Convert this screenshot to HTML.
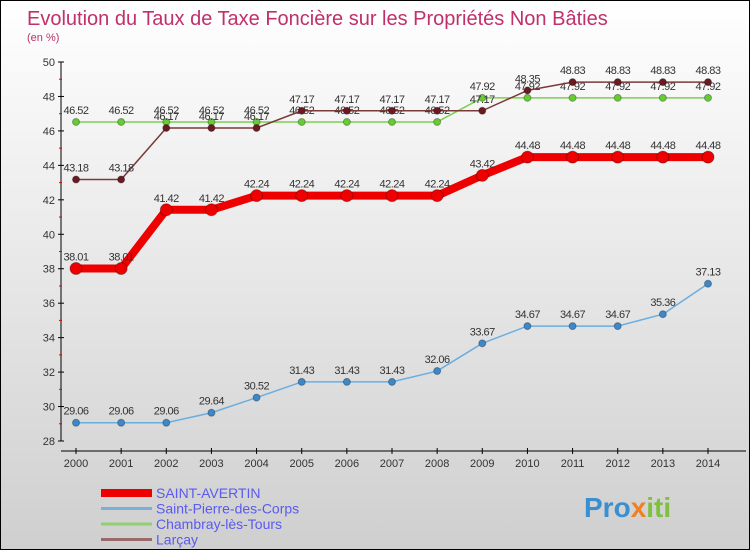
<!DOCTYPE html>
<html><head><meta charset="utf-8"><style>
body{margin:0}
#c{width:750px;height:550px;position:relative;box-sizing:border-box;border:1px solid #000;background:linear-gradient(#ffffff,#cfcfcf);font-family:"Liberation Sans",sans-serif;overflow:hidden}
</style></head><body>
<div id="c">
<svg id="s" width="750" height="550" style="position:absolute;left:0;top:0">
<text x="26" y="24" font-size="20" fill="#c0306a">Evolution du Taux de Taxe Foncière sur les Propriétés Non Bâties</text>
<text x="26" y="40" font-size="11" fill="#c0306a">(en %)</text>
<text x="583" y="516" font-size="28" font-weight="bold" fill="#3a8fd0">Pro<tspan fill="#f08020">x</tspan><tspan fill="#80c040">iti</tspan></text>
</svg>
</div>
<script>
const years=[2000,2001,2002,2003,2004,2005,2006,2007,2008,2009,2010,2011,2012,2013,2014];
const yTicks=[28,30,32,34,36,38,40,42,44,46,48,50];
const saintAvertin=[38.01,38.01,41.42,41.42,42.24,42.24,42.24,42.24,42.24,43.42,44.48,44.48,44.48,44.48,44.48];
const saintPierre=[29.06,29.06,29.06,29.64,30.52,31.43,31.43,31.43,32.06,33.67,34.67,34.67,34.67,35.36,37.13];
const chambray=[46.52,46.52,46.52,46.52,46.52,46.52,46.52,46.52,46.52,47.92,47.92,47.92,47.92,47.92,47.92];
const larcay=[43.18,43.18,46.17,46.17,46.17,47.17,47.17,47.17,47.17,47.17,48.35,48.83,48.83,48.83,48.83];
const seriesNames=["SAINT-AVERTIN","Saint-Pierre-des-Corps","Chambray-lès-Tours","Larçay"];
const NS="http://www.w3.org/2000/svg";
const svg=document.getElementById('s');
const X=i=>75+i*(707-75)/(years.length-1);
const Y=v=>440-(v-28)*(440-61)/22;
function mk(t,a,p){const e=document.createElementNS(NS,t);for(const k in a)e.setAttribute(k,a[k]);(p||svg).appendChild(e);return e;}
// axes
let g=mk('g',{});


mk('line',{x1:60,y1:61,x2:60,y2:440,stroke:'#000'},g);
yTicks.forEach((v,i)=>{mk('line',{x1:57,y1:Y(v),x2:63,y2:Y(v),stroke:'#000'},g);
 if(i<yTicks.length-1)mk('line',{x1:58,y1:Y(v+1),x2:61,y2:Y(v+1),stroke:'#e00'},g);
 const t=mk('text',{x:54,y:Y(v)+4,'font-size':11,'text-anchor':'end',fill:'#333'},g);t.textContent=v;
 
 });
let gx=mk('g',{});


mk('line',{x1:60,y1:450,x2:745,y2:450,stroke:'#000'},gx);
years.forEach((y,i)=>{mk('line',{x1:X(i),y1:447,x2:X(i),y2:453,stroke:'#000'},gx);
 const t=mk('text',{x:X(i),y:466,'font-size':11,'text-anchor':'middle',fill:'#333'},gx);t.textContent=y;
 
 });
function series(data,name,color,w,r,dot){
 const gg=mk('g',{});
 
 
 const pts=data.map((v,i)=>X(i)+','+Y(v)).join(' ');
 const l=mk('polyline',{points:pts,fill:'none',stroke:color,'stroke-width':w,'stroke-linejoin':'round'},gg);
 
 
 data.forEach((v,i)=>{const c=mk('circle',{cx:X(i),cy:Y(v),r:r,fill:dot,stroke:'rgba(0,0,0,0.3)'},gg);
  
  
  const t=mk('text',{x:X(i),y:Y(v)-8,'font-size':11,'text-anchor':'middle',fill:'#333','letter-spacing':'-0.5'},gg);t.textContent=v.toFixed(2);
  
  });
}
series(chambray,'chambray','#7dd050',1.5,3.5,'#66cc33');
series(larcay,'larcay','#7a3a3a',1.5,3.5,'#6b1a22');
series(saintPierre,'saint-pierre','#6aaee0',1.5,3.5,'#3d88c8');
series(saintAvertin,'saint-avertin','#ee0000',8,6,'#ee0000');
const legColors=['#ee0000','#7ab0d8','#90d070','#9a6a6a'];
const legW=[8,3,3,3];
seriesNames.forEach((n,i)=>{const y=492+i*15.5;
 const gl=mk('g',{});
 
 
 mk('line',{x1:100,y1:y,x2:151,y2:y,stroke:legColors[i],'stroke-width':legW[i]},gl);
 const t=mk('text',{x:155,y:y+5,'font-size':14,fill:'#5a5af0'},gl);t.textContent=n;});
</script>
</body></html>
